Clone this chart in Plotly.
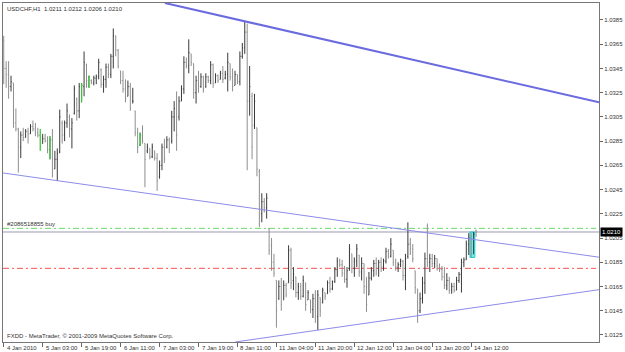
import plotly.graph_objects as go

# ---------------- data (prices x 10000) ----------------
high_x1e4 = [10372,10351,10351,10339,10333,10312,10296,10293,10296,10295,10296,10299,10302,10300,10296,10295,10291,10291,10289,10289,
10295,10277,10279,10311,10302,10302,10316,10307,10304,10331,10321,10333,10333,10359,10349,10339,10336,10339,10340,10353,
10345,10339,10349,10349,10357,10378,10372,10361,10343,10343,10336,10335,10333,10329,10310,10296,10292,10298,10283,10283,
10279,10283,10277,10275,10269,10283,10287,10289,10288,10310,10318,10326,10322,10331,10355,10354,10369,10357,10349,10339,
10343,10341,10339,10341,10339,10351,10349,10341,10340,10343,10347,10343,10358,10349,10345,10343,10340,10359,10366,10384,
10382,10347,10325,10324,10296,10262,10242,10238,10242,10213,10205,10192,10170,10170,10172,10170,10168,10199,10197,10181,
10173,10168,10168,10174,10168,10162,10154,10159,10162,10162,10156,10164,10160,10170,10173,10170,10181,10189,10188,10187,
10182,10181,10200,10192,10189,10200,10191,10189,10184,10173,10177,10181,10187,10189,10187,10189,10188,10197,10196,10205,
10195,10188,10185,10188,10187,10192,10218,10205,10200,10178,10163,10160,10173,10193,10217,10192,10192,10191,10188,10184,
10182,10181,10176,10173,10168,10168,10173,10177,10188,10189,10203,10209,10209,10210,10212]
low_x1e4 = [10332,10329,10320,10326,10296,10293,10259,10271,10285,10288,10283,10291,10293,10289,10288,10277,10283,10284,10275,10270,
10255,10262,10252,10275,10283,10285,10296,10288,10279,10307,10302,10304,10317,10322,10329,10329,10332,10331,10332,10336,
10329,10325,10329,10337,10337,10345,10355,10345,10332,10325,10317,10322,10310,10316,10289,10275,10281,10283,10247,10275,
10270,10271,10269,10244,10254,10261,10267,10279,10275,10283,10293,10277,10302,10318,10324,10345,10341,10347,10320,10316,
10325,10329,10325,10329,10333,10332,10329,10333,10333,10336,10333,10336,10326,10335,10326,10331,10332,10331,10353,10357,
10261,10306,10270,10295,10256,10214,10218,10226,10221,10191,10178,10173,10131,10154,10145,10154,10156,10168,10163,10162,
10156,10154,10154,10156,10145,10154,10143,10139,10135,10129,10140,10151,10154,10159,10160,10162,10168,10173,10181,10173,
10168,10164,10178,10176,10173,10181,10173,10170,10159,10144,10158,10170,10173,10174,10173,10177,10178,10184,10188,10189,
10182,10178,10177,10181,10170,10162,10188,10191,10185,10159,10135,10143,10151,10159,10181,10177,10181,10180,10178,10177,
10170,10163,10162,10159,10159,10160,10162,10168,10160,10181,10187,10191,10189,10192,10206]
open_x1e4 = [10368,10345,10340,10330,10333,10300,10295,10280,10290,10288,10293,10291,10297,10295,10292,10290,10283,10287,10285,10278,
10286,10262,10270,10276,10300,10290,10300,10305,10295,10308,10320,10310,10318,10330,10348,10331,10335,10333,10337,10338,
10344,10332,10336,10346,10340,10355,10372,10360,10343,10335,10328,10322,10330,10318,10310,10292,10282,10290,10283,10277,
10279,10272,10277,10271,10256,10265,10280,10280,10286,10285,10305,10312,10305,10318,10328,10350,10347,10357,10349,10325,
10335,10330,10338,10330,10338,10335,10348,10333,10339,10336,10341,10337,10340,10349,10338,10331,10340,10334,10355,10362,
10375,10318,10322,10298,10296,10260,10225,10235,10230,10213,10199,10185,10170,10155,10165,10154,10166,10168,10195,10170,
10173,10160,10165,10157,10168,10154,10154,10146,10155,10140,10156,10152,10160,10159,10168,10163,10169,10179,10186,10183,
10176,10171,10180,10192,10180,10186,10191,10177,10184,10165,10158,10172,10178,10184,10180,10185,10181,10186,10194,10190,
10195,10185,10181,10183,10186,10174,10190,10200,10196,10178,10163,10145,10155,10168,10188,10185,10188,10184,10188,10182,
10179,10173,10166,10170,10162,10165,10162,10170,10175,10185,10187,10200,10205,10192,10211]
close_x1e4 = [10345,10340,10330,10334,10300,10295,10280,10290,10288,10293,10291,10297,10295,10292,10290,10280,10287,10285,10278,10286,
10262,10270,10275,10305,10290,10300,10310,10295,10300,10328,10310,10330,10331,10350,10335,10338,10333,10337,10338,10350,
10332,10336,10346,10340,10355,10372,10360,10347,10335,10328,10320,10330,10312,10318,10292,10280,10290,10285,10270,10280,
10272,10280,10271,10252,10265,10280,10270,10286,10278,10305,10312,10290,10318,10328,10350,10347,10358,10350,10325,10335,
10330,10338,10328,10338,10335,10348,10333,10339,10335,10341,10336,10340,10350,10338,10330,10340,10334,10355,10362,10375,
10318,10330,10280,10318,10262,10225,10235,10230,10238,10195,10185,10176,10145,10165,10150,10166,10158,10195,10168,10175,
10160,10165,10157,10170,10150,10160,10146,10155,10140,10158,10145,10162,10157,10168,10163,10169,10179,10186,10183,10176,
10171,10178,10196,10180,10186,10196,10177,10184,10165,10150,10172,10178,10184,10180,10185,10181,10186,10194,10190,10200,
10185,10181,10183,10186,10174,10188,10200,10196,10188,10164,10145,10155,10168,10188,10185,10188,10184,10188,10182,10179,
10173,10166,10170,10162,10165,10162,10170,10175,10185,10187,10200,10205,10192,10208,10210]
green_bars = [15, 19, 32, 35, 56]
highlight_bars = [192, 193]

time_tick_idx = [0, 16, 32, 48, 64, 80, 96, 112, 128, 144, 160, 176, 192]
time_tick_text = ["4 Jan 2010", "5 Jan 03:00", "5 Jan 19:00", "6 Jan 11:00", "7 Jan 03:00",
                  "7 Jan 19:00", "8 Jan 11:00", "11 Jan 04:00", "11 Jan 20:00", "12 Jan 12:00",
                  "13 Jan 04:00", "13 Jan 20:00", "14 Jan 12:00"]
price_ticks = [1.0125, 1.0145, 1.0165, 1.0185, 1.0205, 1.0225, 1.0245, 1.0265,
               1.0285, 1.0305, 1.0325, 1.0345, 1.0365, 1.0385]

upper_line_idx = [66.2, 244.5]
upper_line_px = [1.0399, 1.0317]
middle_line_idx = [-0.3, 244.5]
middle_line_px = [1.02587, 1.01892]
lower_line_idx = [95.1, 244.5]
lower_line_px = [1.01192, 1.01624]

order_price = 1.0213
stop_price = 1.0180
bid_price = 1.0210
order_label = "#2086518855 buy"
title_text = "USDCHF,H1  1.0211 1.0212 1.0206 1.0210"
copyright_text = "FXDD - MetaTrader, © 2001-2009 MetaQuotes Software Corp."

# ---------------- figure ----------------
O = [v / 10000 for v in open_x1e4]
H = [v / 10000 for v in high_x1e4]
L = [v / 10000 for v in low_x1e4]
C = [v / 10000 for v in close_x1e4]
idx = list(range(len(H)))
FONT = "Liberation Sans"
FS = 6

fig = go.Figure()
fig.add_trace(go.Ohlc(x=idx, open=O, high=H, low=L, close=C, tickwidth=0.3,
                      increasing=dict(line=dict(color="#3a3a3a", width=1)),
                      decreasing=dict(line=dict(color="#8e8e8e", width=1)),
                      hoverinfo="skip", showlegend=False))
fig.add_trace(go.Ohlc(x=green_bars, open=[O[i] for i in green_bars], high=[H[i] for i in green_bars],
                      low=[L[i] for i in green_bars], close=[C[i] for i in green_bars], tickwidth=0.3,
                      increasing=dict(line=dict(color="#33dd33", width=1)),
                      decreasing=dict(line=dict(color="#33dd33", width=1)),
                      hoverinfo="skip", showlegend=False))

for xs, ys, col, w in [(upper_line_idx, upper_line_px, "#6b6be0", 2),
                       (middle_line_idx, middle_line_px, "#8c8ce8", 1),
                       (lower_line_idx, lower_line_px, "#8c8ce8", 1)]:
    fig.add_trace(go.Scatter(x=xs, y=ys, mode="lines", line=dict(color=col, width=w),
                             hoverinfo="skip", showlegend=False))

shapes = [
    dict(type="line", xref="paper", x0=0, x1=0.995, yref="y", y0=order_price, y1=order_price,
         line=dict(color="#66dd66", width=1, dash="6px,3px,2px,3px"), layer="below"),
    dict(type="line", xref="paper", x0=0, x1=0.995, yref="y", y0=stop_price, y1=stop_price,
         line=dict(color="#ff4f4f", width=1, dash="6px,3px,2px,3px"), layer="below"),
    dict(type="line", xref="paper", x0=0, x1=1, yref="y", y0=bid_price, y1=bid_price,
         line=dict(color="#9a9aae", width=1), layer="below"),
    dict(type="rect", xref="x", yref="y",
         x0=min(highlight_bars) - 0.5, x1=max(highlight_bars) + 0.5,
         y0=min(L[i] for i in highlight_bars), y1=max(H[i] for i in highlight_bars),
         line=dict(color="#22cccc", width=1), fillcolor="rgba(0,230,230,0.6)", layer="below"),
]

annotations = [
    dict(text=title_text, xref="paper", yref="paper", x=0, y=1, xanchor="left", yanchor="top",
         xshift=2, yshift=-1, showarrow=False, font=dict(family=FONT, size=FS, color="#333")),
    dict(text=order_label, xref="paper", yref="y", x=0, y=order_price, xanchor="left", yanchor="bottom",
         xshift=2, yshift=-1, showarrow=False, font=dict(family=FONT, size=FS, color="#333")),
    dict(text=copyright_text, xref="paper", yref="paper", x=0, y=0, xanchor="left", yanchor="bottom",
         xshift=2, yshift=1, showarrow=False, font=dict(family=FONT, size=FS, color="#333")),
    dict(text="%.4f" % bid_price, xref="paper", yref="y", x=1, y=bid_price, xanchor="left", yanchor="middle",
         xshift=1, showarrow=False, bgcolor="#000000", borderpad=1,
         font=dict(family=FONT, size=FS, color="#ffffff")),
]
for ti, tt in zip(time_tick_idx, time_tick_text):
    annotations.append(dict(text=tt, xref="x", yref="paper", x=ti, y=0, xanchor="left", yanchor="top",
                            xshift=1, yshift=-1, showarrow=False,
                            font=dict(family=FONT, size=FS, color="#333")))

fig.update_layout(
    width=625, height=352, margin=dict(l=2, r=24, t=2, b=10),
    paper_bgcolor="white", plot_bgcolor="white", showlegend=False,
    shapes=shapes, annotations=annotations,
    xaxis=dict(range=[-0.3, 244.5], tickvals=time_tick_idx, showticklabels=False, ticks="outside",
               ticklen=4, tickcolor="#666", showgrid=False, zeroline=False, showline=True,
               linecolor="#777", linewidth=1, mirror=True, rangeslider=dict(visible=False)),
    yaxis=dict(range=[1.01192, 1.0399], side="right", tickvals=price_ticks,
               ticktext=["%.4f" % p for p in price_ticks], ticks="outside", ticklen=3, tickcolor="#666",
               tickfont=dict(family=FONT, size=FS, color="#333"), showgrid=False, zeroline=False,
               showline=True, linecolor="#777", linewidth=1, mirror=True),
)

fig.write_html("out.html")
